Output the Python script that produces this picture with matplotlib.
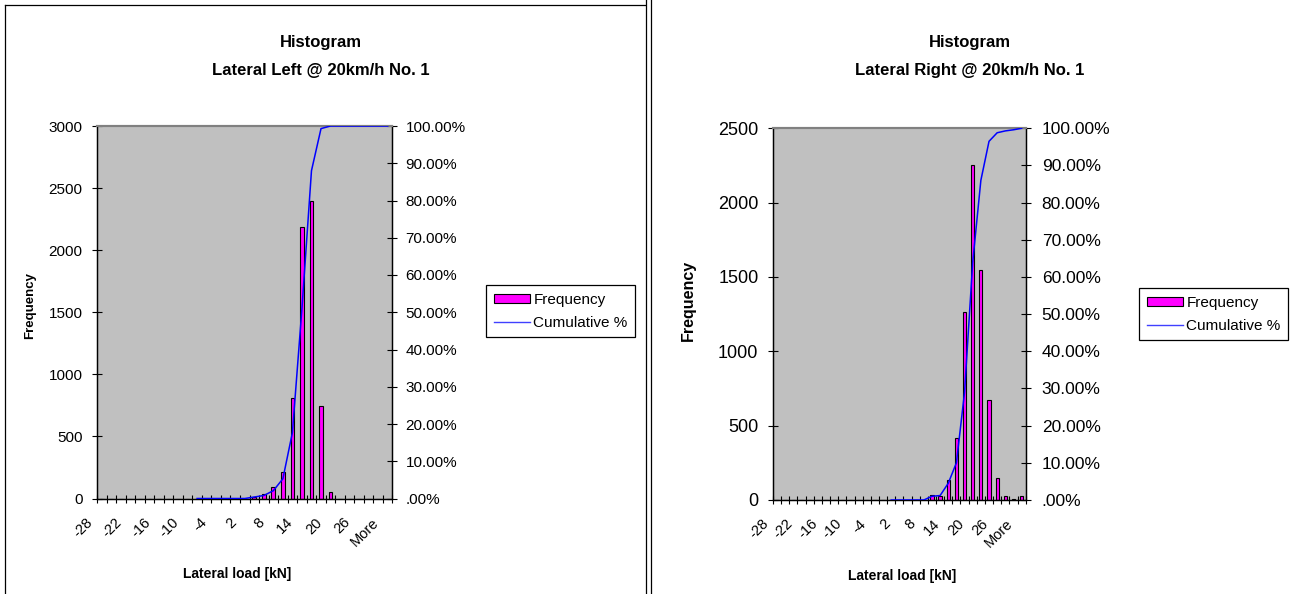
import numpy as np
import matplotlib
matplotlib.use("Agg")
import matplotlib.pyplot as plt
from matplotlib.lines import Line2D
from matplotlib.patches import Patch
from matplotlib.transforms import ScaledTranslation

plt.rcParams['font.family'] = ['Liberation Sans', 'DejaVu Sans']

# bins of the Excel histogram (every 3rd one is labelled)
bins = [str(b) for b in range(-28, 31, 2)] + ["More"]

# frequencies
left_freq = [0] * 16 + [12, 35, 90, 210, 810, 2190, 2400, 745, 50] + [0] * 6
right_freq = [0] * 19 + [34, 30, 135, 415, 1265, 2250, 1550, 675, 145, 27, 10, 25]

# cumulative %, blank where Excel left it empty
left_cum = [np.nan] * 10 + [0, 0, 0, 0, 0, 0, 0.004, 0.008, 0.021, 0.053,
                            0.177, 0.51, 0.88, 0.993, 1.0, 1.0, 1.0, 1.0, 1.0, 1.0, 1.0]
right_cum = [np.nan] * 14 + [0, 0, 0, 0, 0, 0.010, 0.012, 0.045, 0.10, 0.29,
                             0.64, 0.86, 0.965, 0.988, 0.993, 0.996, 1.0]

pct_labels = [".00%"] + ["%d.00%%" % p for p in range(10, 101, 10)]

W, H = 1291, 594


def box(x0, y0, x1, y1):
    return [x0 / W, 1 - y1 / H, (x1 - x0) / W, (y1 - y0) / H]


def draw_hist(fig, rect, title, freq, cum, ymax, ystep, fs_left, fs_right, pad_right,
              legend_xy, ylab_xy, ylab_fs, xlab_xy, title_x):
    ax = fig.add_axes(rect)
    ax.set_facecolor("#c0c0c0")
    x = np.arange(len(bins))
    ax.bar(x, freq, width=0.4, color="#ff00ff", edgecolor="black", linewidth=0.8, zorder=2)
    ax.set_xlim(-0.5, len(bins) - 0.5)
    ax.set_ylim(0, ymax)
    ax.set_yticks(np.arange(0, ymax + 1, ystep))
    ax.tick_params(axis="y", direction="inout", length=7, width=0.8, labelsize=fs_left, pad=7)

    # ticks between categories, labels on every 3rd category
    ax.set_xticks(np.arange(-0.5, len(bins)))
    ax.set_xticklabels([])
    ax.tick_params(axis="x", which="major", direction="inout", length=6, width=0.8)
    ax.set_xticks(x[::3], minor=True)
    ax.set_xticklabels(bins[::3], minor=True, rotation=45, ha="right", va="top",
                       fontsize=10.5)
    ax.tick_params(axis="x", which="minor", length=0, pad=12)
    shift = ScaledTranslation(-6 / 100, 0, fig.dpi_scale_trans)
    for lab in ax.get_xticklabels(minor=True):
        lab.set_transform(lab.get_transform() + shift)

    ax2 = ax.twinx()
    ax2.plot(x, cum, color="#0000ff", lw=1.1, zorder=3)
    ax2.set_ylim(0, 1)
    ax2.set_yticks(np.linspace(0, 1, 11))
    ax2.set_yticklabels(pct_labels)
    ax2.tick_params(axis="y", direction="inout", length=7, width=0.8, labelsize=fs_right,
                    pad=pad_right)

    for a in (ax, ax2):
        a.spines["top"].set_color("#808080")
        a.spines["top"].set_linewidth(1.5)
        for s in ("left", "right", "bottom"):
            a.spines[s].set_linewidth(0.9)

    fig.text(title_x / W, 1 - 42 / H, "Histogram", ha="center", va="center",
             fontsize=12, fontweight="bold")
    fig.text(title_x / W, 1 - 70 / H, title, ha="center", va="center",
             fontsize=12, fontweight="bold")
    fig.text(ylab_xy[0] / W, 1 - ylab_xy[1] / H, "Frequency", rotation=90, ha="center",
             va="center", fontsize=ylab_fs, fontweight="bold")
    fig.text(xlab_xy[0] / W, 1 - xlab_xy[1] / H, "Lateral load [kN]", ha="center",
             va="center", fontsize=10, fontweight="bold")

    handles = [Patch(facecolor="#ff00ff", edgecolor="black", linewidth=0.8),
               Line2D([], [], color="#4040ff", lw=1)]
    leg = ax2.legend(handles, ["Frequency", "Cumulative %"], loc="upper left",
                     bbox_to_anchor=(legend_xy[0] / W, 1 - legend_xy[1] / H),
                     bbox_transform=fig.transFigure, fancybox=False, framealpha=1,
                     edgecolor="black", borderaxespad=0, fontsize=11, handlelength=2.4,
                     handleheight=0.5, handletextpad=0.2, borderpad=0.5, labelspacing=0.6)
    leg.get_frame().set_linewidth(0.9)
    return ax, ax2


fig = plt.figure(figsize=(W / 100, H / 100), dpi=100)

draw_hist(fig, box(97, 126, 392.5, 498.5), "Lateral Left @ 20km/h No. 1",
          left_freq, left_cum, 3000, 500, 11, 11, 6, (486, 285), (30, 305), 9.5,
          (237, 574), 321)
draw_hist(fig, box(773, 128.3, 1025.7, 500), "Lateral Right @ 20km/h No. 1",
          right_freq, right_cum, 2500, 500, 13, 12.5, 8, (1139, 288), (688, 300), 11.5,
          (902, 576), 970)

# chart frame and sheet border
for xs, ys in [((5, 5), (5, 594)), ((5, 645), (5, 5)), ((646, 646), (0, 594)),
               ((651, 651), (0, 594))]:
    fig.add_artist(Line2D([xs[0] / W, xs[1] / W], [1 - ys[0] / H, 1 - ys[1] / H],
                          transform=fig.transFigure, color="black", lw=0.9))

fig.savefig("out.png", dpi=100)
